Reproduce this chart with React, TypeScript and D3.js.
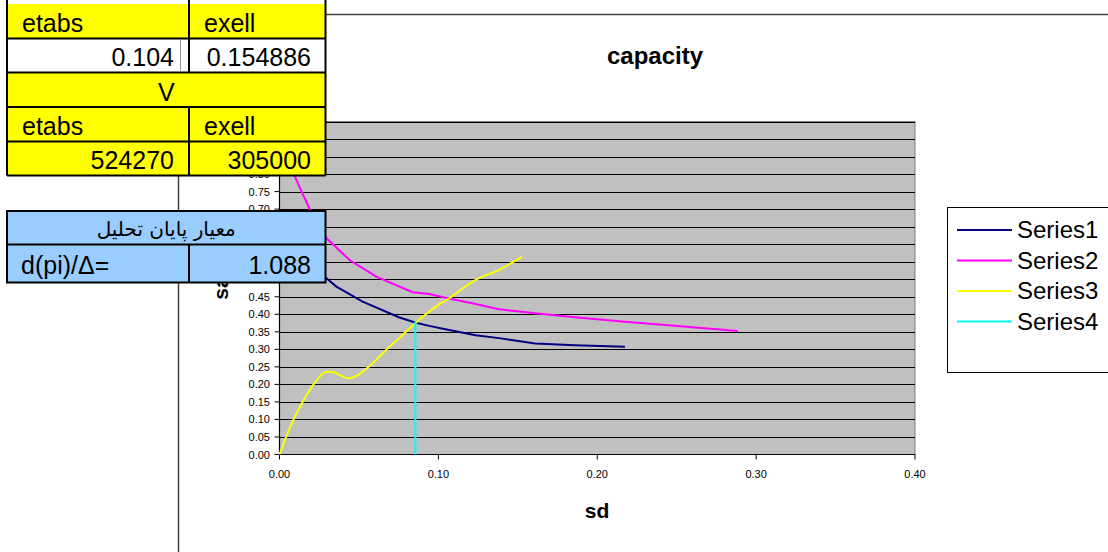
import React from "react";
import * as d3 from "d3";

// Capacity curves: sd on x, sa on y
const series1: [number, number][] = [
  [0.005, 0.66], [0.012, 0.6], [0.02, 0.545], [0.0296, 0.503], [0.0358, 0.479],
  [0.0523, 0.436], [0.0755, 0.391], [0.0859, 0.376], [0.0942, 0.367],
  [0.1067, 0.355], [0.1235, 0.34], [0.138, 0.332], [0.161, 0.317],
  [0.186, 0.3115], [0.2174, 0.3075],
];
const series2: [number, number][] = [
  [0.005, 0.86], [0.0097, 0.7926], [0.0139, 0.7498], [0.0191, 0.6996],
  [0.0296, 0.6168], [0.0441, 0.5549], [0.0609, 0.5073], [0.0838, 0.4628],
  [0.0942, 0.4579], [0.1067, 0.4451], [0.1235, 0.4294], [0.138, 0.4143],
  [0.161, 0.4028], [0.186, 0.3914], [0.2174, 0.3789], [0.2487, 0.3675],
  [0.2884, 0.3523],
];
const series3: [number, number][] = [
  [0, 0], [0.0055, 0.065], [0.0118, 0.127], [0.0222, 0.205], [0.0285, 0.2345],
  [0.0337, 0.2345], [0.0431, 0.2174], [0.0483, 0.224], [0.0567, 0.2525],
  [0.0671, 0.298], [0.0775, 0.341], [0.0859, 0.376], [0.0984, 0.4217],
  [0.1067, 0.4456], [0.1235, 0.4979], [0.138, 0.5264], [0.1525, 0.564],
];
const series4: [number, number][] = [
  [0.0855, 0], [0.0855, 0.38],
];

const seriesNames = ["Series1", "Series2", "Series3", "Series4"];
const seriesColors = ["#000080", "#FF00FF", "#FFFF00", "#00FFFF"];

const xTicks = [0, 0.1, 0.2, 0.3, 0.4];
const yTicks = [
  0, 0.05, 0.1, 0.15, 0.2, 0.25, 0.3, 0.35, 0.4, 0.45, 0.5, 0.55, 0.6, 0.65,
  0.7, 0.75, 0.8, 0.85, 0.9, 0.95,
];

const chartTitle = "capacity";
const xTitle = "sd";
const yTitle = "sa";

// Side tables
const periodHeader = ["etabs", "exell"];
const periodValues = ["0.104", "0.154886"];
const shearTitle = "V";
const shearHeader = ["etabs", "exell"];
const shearValues = ["524270", "305000"];
const criterionTitle = "معيار پايان تحليل";
const criterionLabel = "d(pi)/Δ=";
const criterionValue = "1.088";

const W = 1108;
const H = 552;
const plot = { left: 279.5, right: 915, top: 121.5, bottom: 454.5 };
const FONT = "'Liberation Sans', Arial, sans-serif";

export default function App() {
  const x = d3.scaleLinear().domain([0, 0.4]).range([plot.left, plot.right]);
  const y = d3.scaleLinear().domain([0, 0.95]).range([plot.bottom, plot.top]);

  const linear = d3
    .line<[number, number]>()
    .x((d) => x(d[0]))
    .y((d) => y(d[1]));
  const smooth = d3
    .line<[number, number]>()
    .x((d) => x(d[0]))
    .y((d) => y(d[1]))
    .curve(d3.curveCatmullRom.alpha(0.5));

  const allSeries = [series1, series2, series3, series4];

  const tLeft = 7;
  const tMid = 189;
  const tRight = 325.5;
  const yellowRows = [4, 38.5, 72.5, 107, 141.5, 175.5];
  const blueRows = [211, 244.5, 282.5];
  const fs = 25;

  return (
    <svg
      width={W}
      height={H}
      style={{ position: "absolute", left: 0, top: 0, background: "#fff" }}
      fontFamily={FONT}
    >
      {/* chart area frame */}
      <line x1={178.5} y1={14.5} x2={W} y2={14.5} stroke="#404040" strokeWidth={1.5} />
      <line x1={178.5} y1={14.5} x2={178.5} y2={H} stroke="#404040" strokeWidth={1.5} />

      <text x={655} y={64} textAnchor="middle" fontWeight="bold" fontSize={24}>
        {chartTitle}
      </text>

      {/* plot area */}
      <rect
        x={plot.left}
        y={plot.top}
        width={plot.right - plot.left}
        height={plot.bottom - plot.top}
        fill="#C0C0C0"
        stroke="#808080"
        strokeWidth={1}
      />
      {yTicks.slice(1).map((t) => (
        <line
          key={"g" + t}
          x1={plot.left}
          x2={plot.right}
          y1={Math.round(y(t)) + 0.5}
          y2={Math.round(y(t)) + 0.5}
          stroke="#000"
          strokeWidth={1}
        />
      ))}

      {/* axes */}
      <line x1={plot.left} x2={plot.right} y1={plot.bottom} y2={plot.bottom} stroke="#000" strokeWidth={1.2} />
      <line x1={plot.left} x2={plot.left} y1={plot.top} y2={plot.bottom} stroke="#000" strokeWidth={1.2} />
      {xTicks.map((t) => (
        <g key={"xt" + t}>
          <line x1={x(t)} x2={x(t)} y1={plot.bottom} y2={plot.bottom + 5} stroke="#000" />
          <text x={x(t)} y={478} textAnchor="middle" fontSize={11}>
            {t.toFixed(2)}
          </text>
        </g>
      ))}
      {yTicks.map((t) => (
        <g key={"yt" + t}>
          <line x1={plot.left - 5} x2={plot.left} y1={y(t)} y2={y(t)} stroke="#000" />
          <text x={270} y={y(t) + 4} textAnchor="end" fontSize={11}>
            {t.toFixed(2)}
          </text>
        </g>
      ))}

      <text x={597} y={518} textAnchor="middle" fontWeight="bold" fontSize={21}>
        {xTitle}
      </text>
      <text
        transform={`translate(228, ${(plot.top + plot.bottom) / 2}) rotate(-90)`}
        textAnchor="middle"
        fontWeight="bold"
        fontSize={21}
      >
        {yTitle}
      </text>

      {/* series */}
      {allSeries.map((s, i) => (
        <path
          key={"s" + i}
          d={(i === 2 ? smooth : linear)(s) || ""}
          fill="none"
          stroke={seriesColors[i]}
          strokeWidth={2}
        />
      ))}

      {/* legend */}
      <rect x={947.5} y={207.5} width={180} height={165} fill="#fff" stroke="#000" strokeWidth={1} />
      {seriesNames.map((n, i) => (
        <g key={"lg" + n}>
          <line x1={957} x2={1012} y1={230 + i * 30.5} y2={230 + i * 30.5} stroke={seriesColors[i]} strokeWidth={2} />
          <text x={1017} y={230 + i * 30.5 + 8} fontSize={24}>
            {n}
          </text>
        </g>
      ))}

      {/* period / base shear table */}
      <rect x={tLeft} y={yellowRows[0]} width={tRight - tLeft} height={yellowRows[5] - yellowRows[0]} fill="#FFFF00" />
      <rect x={tLeft} y={yellowRows[1]} width={tRight - tLeft} height={yellowRows[2] - yellowRows[1]} fill="#fff" />
      <g stroke="#000" strokeWidth={2}>
        <line x1={tLeft} x2={tLeft} y1={0} y2={yellowRows[5]} />
        <line x1={tRight} x2={tRight} y1={0} y2={yellowRows[5]} />
        {yellowRows.slice(1).map((r) => (
          <line key={"yr" + r} x1={tLeft} x2={tRight} y1={r} y2={r} />
        ))}
        <line x1={tMid} x2={tMid} y1={0} y2={yellowRows[2]} />
        <line x1={tMid} x2={tMid} y1={yellowRows[3]} y2={yellowRows[5]} />
      </g>
      <line x1={180.5} x2={180.5} y1={yellowRows[1] + 1} y2={yellowRows[2] - 1} stroke="#999" strokeWidth={1} />
      <g fontSize={fs} fill="#000">
        <text x={22} y={32}>{periodHeader[0]}</text>
        <text x={204} y={32}>{periodHeader[1]}</text>
        <text x={174} y={66} textAnchor="end">{periodValues[0]}</text>
        <text x={311} y={66} textAnchor="end">{periodValues[1]}</text>
        <text x={(tLeft + tRight) / 2} y={100.5} textAnchor="middle">{shearTitle}</text>
        <text x={22} y={134.5}>{shearHeader[0]}</text>
        <text x={204} y={134.5}>{shearHeader[1]}</text>
        <text x={174} y={168.5} textAnchor="end">{shearValues[0]}</text>
        <text x={311} y={168.5} textAnchor="end">{shearValues[1]}</text>
      </g>

      {/* analysis end criterion table */}
      <rect x={tLeft} y={blueRows[0]} width={tRight - tLeft} height={blueRows[2] - blueRows[0]} fill="#99CCFF" />
      <g stroke="#000" strokeWidth={2}>
        <rect x={tLeft} y={blueRows[0]} width={tRight - tLeft} height={blueRows[2] - blueRows[0]} fill="none" />
        <line x1={tLeft} x2={tRight} y1={blueRows[1]} y2={blueRows[1]} />
        <line x1={tMid} x2={tMid} y1={blueRows[1]} y2={blueRows[2]} />
      </g>
      <text
        x={(tLeft + tRight) / 2}
        y={236}
        textAnchor="middle"
        fontSize={20}
        fontFamily="'DejaVu Sans', sans-serif"
        direction="rtl"
      >
        {criterionTitle}
      </text>
      <text x={21} y={273.5} fontSize={fs}>{criterionLabel}</text>
      <text x={311} y={273.5} textAnchor="end" fontSize={fs}>{criterionValue}</text>
    </svg>
  );
}
